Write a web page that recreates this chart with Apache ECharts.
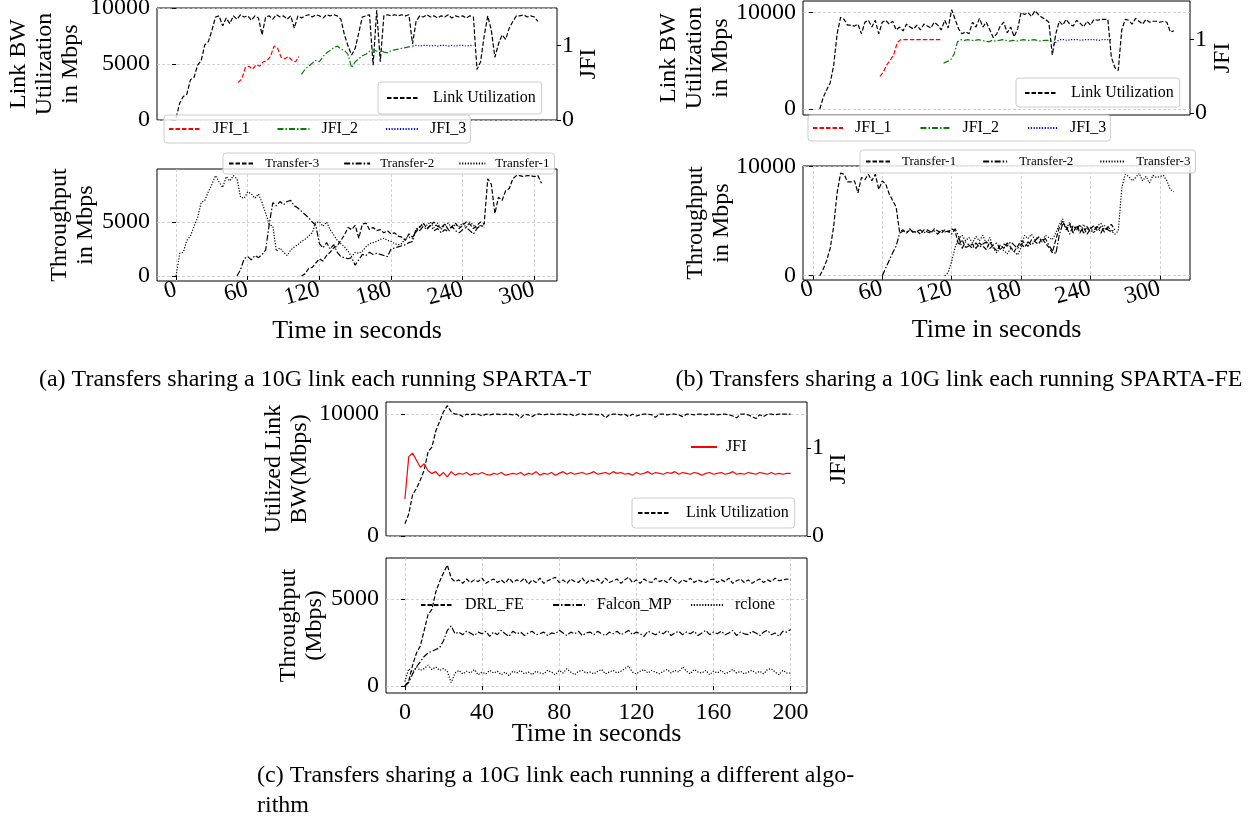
<!DOCTYPE html>
<html>
<head>
<meta charset="utf-8">
<title>Transfers sharing a 10G link</title>
<script src="https://cdn.jsdelivr.net/npm/echarts@6/dist/echarts.min.js"></script>
<style>
  html, body { margin: 0; padding: 0; background: #fff; }
  #chart { width: 1256px; height: 822px; }
</style>
</head>
<body>
<div id="chart"></div>
<script>
  // sample spacing (seconds)
  const STEP_AB = 3
  const STEP_C = 2

  // (a) SPARTA-T
  const aLinkStart = 0
  const aLink = [200,1500,2100,2300,3600,3800,4900,5300,6700,7000,
    8000,9200,9300,8400,9100,8600,9300,9000,9400,9200,
    9300,8900,9300,9100,7600,9200,9300,9000,9400,9200,
    9300,9000,9300,8200,9300,9100,9300,9400,9200,9400,
    9300,9100,9400,9300,9400,9300,9000,7600,6600,5800,
    6400,7800,9200,9300,9400,4900,9800,5200,9300,9400,
    9300,9400,9300,9400,9300,9400,6800,8800,9300,9200,
    9400,9200,9300,9100,9300,9200,9400,9100,9300,9200,
    9300,9100,9300,9200,4500,5200,7500,9300,8000,5600,
    6800,7600,7200,8200,8800,9300,9300,9400,9200,9300,
    9200,8800]
  const aJfi1Start = 52
  const aJfi1 = [0.50,0.55,0.70,0.72,0.68,0.74,0.72,0.78,0.79,0.85,0.99,0.96,0.84,0.82,0.85,0.80,0.78,0.85]
  const aJfi2Start = 105
  const aJfi2 = [0.61,0.68,0.72,0.76,0.80,0.78,0.85,0.90,0.93,0.97,0.99,0.95,0.93,0.88,0.70,0.78,
    0.82,0.86,0.88,0.92,0.94,0.92,0.94,0.91,0.90,0.93,0.94,0.95,0.96,0.97,0.98,0.98]
  const aJfi3Start = 198
  const aJfi3 = [0.99,1.0,0.99,1.0,1.0,0.99,1.0,0.99,1.0,1.0,0.99,1.0,0.99,1.0,1.0,0.99,1.0,1.0]
  const aT1Start = 0
  const aT1 = [0,2100,2200,3300,3700,4600,5400,6800,7000,7800,
    8500,9300,8700,8200,9200,8800,9300,9000,7300,7200,
    7800,7600,7200,7600,6800,5800,4800,4600,2300,2600,
    2200,1900,2400,2700,2900,3200,3400,3700,4000,5000,
    5000,4600,5000,4300,3800,3300,3000,2700,2300,1800,
    2200,2100,2300,2700,3000,3100,3200,3400,3500,3300,
    3200,3000,2900,3000,3500,3600,3500,4300,4600,4800,
    4700,5000,4500,4900,4300,4700,4900,4400,4800,4600,
    4900,4500,5000,4700,4400,4700,4600]
  const aT2Start = 51
  const aT2 = [0,600,1600,1800,1500,1900,1700,2000,2400,4800,
    6800,6500,6900,6600,6900,7000,6500,6300,6000,5700,
    5400,5000,4700,3000,2600,3100,2500,2900,2200,1800,
    1700,1600,1700,1000,1500,2000,1900,2200,2000,2100,
    2000,1900,1800,2500,2600,2700,2800,2900,3100,3200,
    4400,4200,4600,4300,4700,4200,4400,4000,4300,4100,
    4600,4200,4000,4300,4500,4200,3900,4400,4700,4500]
  const aT3Start = 105
  const aT3 = [0,200,700,800,1200,1600,1400,1900,2200,2600,
    2800,3300,3800,4500,4300,4700,3500,4800,4900,4300,
    4500,4200,4300,4000,4200,3900,4000,3700,3600,3300,
    3900,3600,4100,4500,4900,4400,4700,5000,4600,4500,
    4800,4300,4600,4900,4400,4700,5000,4800,4400,4700,
    5000,4800,9000,8500,5800,7300,7000,7900,8100,9000,
    9300,9300,9200,9300,9300,9200,9300,8600]

  // (b) SPARTA-FE
  const bLinkStart = 6
  const bLink = [0,1200,2000,2700,4500,7800,9500,9300,8700,8700,
    8600,8800,7800,9000,9200,8500,9200,7800,9000,9200,
    8800,9100,8200,8500,8100,8800,8500,8300,8700,8200,
    8800,8600,8400,9000,8700,8200,9200,8400,10300,9300,
    8300,7800,8000,7800,9000,8500,9400,8500,9000,8200,
    7400,7800,8600,9000,7900,8500,7500,8300,10000,9800,
    10000,9600,10200,9800,9500,9300,9000,5600,7800,9100,
    8700,9300,8800,8600,9200,8900,8500,9100,8700,9300,
    9200,9300,9300,9300,5400,4300,4000,8200,9300,9200,
    8800,9400,9100,8800,9300,9000,9100,9100,9000,9100,
    9000,8000,8100]
  const bJfi1Start = 58
  const bJfi1 = [0.50,0.56,0.66,0.72,0.80,0.96,1.0,1.0,1.0,1.0,1.0,1.0,1.0,1.0,1.0,1.0,1.0,1.0,1.0]
  const bJfi2Start = 113
  const bJfi2 = [0.68,0.70,0.72,0.80,0.97,1.0,0.99,1.0,0.99,0.99,1.0,0.99,0.98,0.97,0.99,0.98,0.99,
    1.0,0.99,0.98,0.99,0.98,0.99,1.0,0.99,0.99,1.0,0.99,0.98,0.99,0.99,0.98,0.99]
  const bJfi3Start = 208
  const bJfi3 = [0.93,0.98,1.0,1.0,0.99,1.0,1.0,1.0,0.99,1.0,1.0,1.0,1.0,0.99,1.0,1.0,1.0,1.0]
  const bT1Start = 6
  const bT1 = [0,600,1400,2500,4500,7600,9400,9300,8600,8600,
    8700,7600,9000,8800,9300,8700,9300,7900,8700,8400,
    7500,6900,6300,4000,4200,3900,4200,4000,4100,3800,
    4200,4000,3900,4300,4100,3900,4200,4000,4300,4100,
    2800,3300,2600,2700,2900,2500,3000,2700,2400,3100,
    2600,2300,2800,2500,3000,2600,2200,2700,3200,3000,
    2700,3300,3100,2900,3400,3000,2600,2100,3300,4400,
    5000,4200,4700,3900,4600,4000,4400,3800,4300,4600,
    4100,4500,4000,4400,4700,4200]
  const bT2Start = 60
  const bT2 = [0,700,1400,2100,2700,3900,4100,4000,4300,3900,
    4100,4200,3900,4200,4000,4100,3800,4200,4000,4100,
    3800,4300,3600,2500,3100,2800,2500,3000,2600,2900,
    3100,2500,2800,3000,2400,2900,2700,3100,2800,2500,
    2900,2600,3100,2800,3200,3500,3200,3400,2800,2300,
    2000,3700,4800,4500,3800,4600,4200,4700,3900,4500,
    4000,4200,4500,3900,4600,4200,4000,4300]
  const bT3Start = 114
  const bT3 = [0,300,1300,2600,3400,3700,3200,3500,3000,3600,
    3200,3700,2900,3500,2500,2100,2600,2300,2000,2500,
    2200,1900,2600,3700,3400,3800,3300,3600,3100,3700,
    3500,3300,3900,4700,5200,4300,4900,4000,4500,3900,
    4700,4200,4400,3900,4600,4800,4200,4500,4100,3800,
    4100,8000,9300,9100,8700,9000,9400,8700,9100,8500,
    9200,9000,9100,9200,8700,7900,7700]

  // (c) different algorithms, sampled from t = 0
  const cLink = [1000,1800,3400,3900,4600,5400,6900,7300,8600,9400,
    10200,10700,10200,10000,10000,9800,10000,9950,10000,10000,
    9850,10000,9950,10000,10000,9950,10000,10000,9950,10000,
    9700,10000,9950,9800,10000,10000,9950,10000,10000,9950,
    10000,10000,9950,10000,9850,10000,10000,9950,10000,10000,
    9950,10000,9700,9950,10000,10000,9950,10000,9800,10000,
    9850,9950,10000,10000,9950,9750,10000,10000,9950,10000,
    10000,9950,9800,10000,10000,9950,10000,10000,9950,10000,
    10000,9950,10000,10000,9950,9850,9700,10000,10000,9950,
    9800,9650,9950,9800,10000,10000,9950,10000,10000,10000,
    10000]
  const cJfi = [0.42,0.90,0.94,0.86,0.78,0.82,0.74,0.71,0.73,0.68,
    0.72,0.67,0.73,0.69,0.71,0.70,0.72,0.69,0.71,0.70,
    0.72,0.70,0.69,0.71,0.70,0.72,0.69,0.70,0.71,0.70,
    0.72,0.69,0.71,0.70,0.73,0.69,0.71,0.70,0.72,0.69,
    0.71,0.73,0.70,0.72,0.70,0.71,0.72,0.70,0.71,0.73,
    0.70,0.71,0.72,0.70,0.73,0.71,0.72,0.70,0.71,0.69,
    0.72,0.70,0.71,0.73,0.70,0.72,0.71,0.70,0.72,0.71,
    0.73,0.70,0.72,0.71,0.70,0.72,0.71,0.69,0.71,0.72,
    0.70,0.71,0.72,0.70,0.71,0.73,0.70,0.71,0.70,0.72,
    0.71,0.70,0.72,0.71,0.70,0.72,0.70,0.71,0.70,0.71,
    0.71]
  const cDrl = [0,300,1200,1900,2300,3200,4100,4400,5400,6000,
    6500,6950,6200,6000,6100,5900,6150,5950,6100,6000,
    6200,5900,6050,6150,5950,6100,5900,6200,5950,6100,
    6000,6200,5850,6100,5950,6200,5900,6050,6150,6250,
    5950,6100,5900,6150,6000,5950,6200,5900,6100,6000,
    6150,5900,6200,5950,6050,6150,5900,6100,6250,5950,
    6100,5900,6150,6000,5950,6200,6000,6100,5950,6250,
    6050,5900,6100,6000,6200,5950,6100,6000,5950,6100,
    6150,5950,6100,6000,6200,5900,6050,6150,5950,6100,
    5900,6050,6150,5950,6100,6000,6200,6050,6100,6150,
    6100]
  const cFalcon = [0,200,700,1100,1400,1700,1900,2000,2100,2200,
    2600,3200,3450,3000,3100,2950,3150,3050,2900,3100,
    3000,3150,2850,3100,2950,3200,3000,2850,3150,3000,
    3100,2900,3050,3150,2950,3000,3100,2900,3050,3000,
    3200,3050,2900,3100,3000,3150,2900,3050,3100,2950,
    3150,3000,2900,3100,3000,3150,2950,3050,3200,2950,
    3100,3000,2850,3150,3050,2950,3100,3000,3200,2900,
    3050,3150,2950,3100,3000,3150,2900,3050,3200,2950,
    3100,3000,3150,2950,3050,3200,2900,3100,3000,2950,
    3150,3050,2900,3100,3200,2950,3050,2850,3150,3100,
    3250]
  const cRclone = [250,1000,800,1100,900,1000,1200,950,1100,900,
    1000,850,200,750,900,700,850,750,950,650,
    800,700,900,750,850,650,800,600,850,750,
    900,700,800,650,850,750,700,900,800,650,
    900,750,1000,800,650,850,900,750,800,700,
    850,950,700,800,900,750,850,1000,1150,800,
    700,850,950,750,900,800,700,850,950,750,
    900,800,1100,850,700,950,800,750,900,650,
    850,750,900,700,800,950,750,850,700,800,
    900,750,850,700,950,1000,800,650,900,750,
    750]

  const xTicksAB = [0, 60, 120, 180, 240, 300]
  const xTicksC = [0, 40, 80, 120, 160, 200]

  const captions = [
    '(a) Transfers sharing a 10G link each running SPARTA-T',
    '(b) Transfers sharing a 10G link each running SPARTA-FE',
    '(c) Transfers sharing a 10G link each running a different algo-\nrithm',
  ]

  const FONT = 'Liberation Serif'
  const DASH = [4.5, 2]
  const DASHDOT = [6, 2, 1.5, 2]
  const DOT = [1.2, 1.6]
  const GRIDLINE = {color: '#c8c8c8', width: 0.8, type: [3, 2]}
  const plain = function (v) { return String(v) }

  function pts (t0, step, vals) {
    return vals.map(function (v, i) { return [t0 + i * step, v] })
  }

  function line (name, xi, yi, data, color, dash) {
    return {
      name: name, type: 'line', xAxisIndex: xi, yAxisIndex: yi, data: data,
      symbol: 'none', showSymbol: false, silent: true, color: color,
      lineStyle: {color: color, width: 1.2, type: dash},
    }
  }

  function xAx (gi, min, max, ticks, labelled, rotate, nameGap) {
    return {
      type: 'value', gridIndex: gi, min: min, max: max,
      axisLine: {show: false},
      axisTick: {show: labelled, customValues: ticks, length: 4, lineStyle: {color: '#000', width: 1}},
      axisLabel: {show: labelled, customValues: ticks, rotate: rotate, margin: 8, formatter: plain,
        color: '#000', fontSize: 24, fontFamily: FONT},
      splitLine: {show: labelled, lineStyle: GRIDLINE},
      name: labelled ? 'Time in seconds' : '', nameLocation: 'middle', nameGap: nameGap || 0,
      nameMoveOverlap: false,
      nameTextStyle: {color: '#000', fontSize: 26, fontFamily: FONT},
    }
  }

  function yAx (gi, side, min, max, ticks, name, nameGap, grid) {
    return {
      type: 'value', gridIndex: gi, position: side, min: min, max: max,
      axisLine: {show: false},
      axisTick: {show: true, customValues: ticks, length: 4, lineStyle: {color: '#000', width: 1}},
      axisLabel: {customValues: ticks, margin: side === 'left' ? 7 : 5, formatter: plain,
        color: '#000', fontSize: 24, fontFamily: FONT},
      splitLine: {show: grid, lineStyle: GRIDLINE},
      name: name, nameLocation: 'middle', nameRotate: 90, nameGap: nameGap,
      nameMoveOverlap: false,
      nameTextStyle: {color: '#000', fontSize: 24, fontFamily: FONT, lineHeight: 26},
    }
  }

  // legend box; the marker dot of line legends is hidden so only the line sample shows
  function frame (extra) {
    return Object.assign({
      orient: 'horizontal', selectedMode: false,
      itemStyle: {opacity: 0, borderWidth: 0},
      backgroundColor: 'rgba(255,255,255,0.8)', borderColor: '#cccccc', borderWidth: 1, borderRadius: 3,
    }, extra)
  }

  let gridBox = {show: true, borderColor: '#000', borderWidth: 1, containLabel: false, outerBoundsMode: 'none'}
  let capFont = '24px "Liberation Serif"'

  let option = {
    animation: false,
    backgroundColor: '#fff',
    textStyle: {fontFamily: FONT},
    grid: [
      Object.assign({left: 157, top: 8, width: 400, height: 112}, gridBox),
      Object.assign({left: 157, top: 169, width: 400, height: 112}, gridBox),
      Object.assign({left: 803, top: 1, width: 387, height: 114}, gridBox),
      Object.assign({left: 803, top: 166, width: 387, height: 114}, gridBox),
      Object.assign({left: 386, top: 402, width: 421, height: 134}, gridBox),
      Object.assign({left: 386, top: 558, width: 421, height: 135}, gridBox),
    ],
    xAxis: [
      xAx(0, -16, 319, xTicksAB, false),
      xAx(1, -16, 319, xTicksAB, true, 15, 37),
      xAx(2, -8.5, 326, xTicksAB, false),
      xAx(3, -8.5, 326, xTicksAB, true, 15, 37),
      xAx(4, -9.8, 208.5, xTicksC, false),
      xAx(5, -9.8, 208.5, xTicksC, true, 0, 28),
    ],
    yAxis: [
      yAx(0, 'left', 0, 10000, [0, 5000, 10000], 'Link BW\nUtilization\nin Mbps', 73, true),
      yAx(0, 'right', 0, 1.5, [0, 1], 'JFI', 19, false),
      yAx(1, 'left', -460, 9910, [0, 5000], 'Throughput\nin Mbps', 58, true),
      yAx(2, 'left', -620, 11200, [0, 10000], 'Link BW\nUtilization\nin Mbps', 69, true),
      yAx(2, 'right', -0.027, 1.527, [0, 1], 'JFI', 20, false),
      yAx(3, 'left', -400, 10060, [0, 10000], 'Throughput\nin Mbps', 68, true),
      yAx(4, 'left', 0, 11000, [0, 10000], 'Utilized Link\nBW(Mbps)', 73, true),
      yAx(4, 'right', 0, 1.52, [0, 1], 'JFI', 19, false),
      yAx(5, 'left', -400, 7357, [0, 5000], 'Throughput\n(Mbps)', 58, true),
    ],
    legend: [
      frame({data: ['JFI_1', 'JFI_2', 'JFI_3'], left: 164, top: 115, padding: [6, 4, 6, 4],
        itemWidth: 32, itemHeight: 12, itemGap: 27,
        textStyle: {fontSize: 16, fontFamily: FONT, color: '#000', padding: [0, 0, 0, 7]}}),
      frame({data: ['Link Utilization'], left: 378, top: 82, padding: [8, 6, 8, 8],
        itemWidth: 32, itemHeight: 14,
        textStyle: {fontSize: 16, fontFamily: FONT, color: '#000', padding: [0, 0, 0, 9]}}),
      frame({data: ['Transfer-3', 'Transfer-2', 'Transfer-1'], left: 223, top: 153, padding: [4, 5, 4, 5],
        itemWidth: 26, itemHeight: 12, itemGap: 24,
        textStyle: {fontSize: 13, fontFamily: FONT, color: '#000', padding: [0, 0, 0, 5]}}),
      frame({data: ['JFI_1', 'JFI_2', 'JFI_3'], left: 808, top: 115, padding: [5, 4, 5, 4],
        itemWidth: 30, itemHeight: 12, itemGap: 28,
        textStyle: {fontSize: 16, fontFamily: FONT, color: '#000', padding: [0, 0, 0, 7]}}),
      frame({data: ['Link Utilization'], left: 1016, top: 78, padding: [7, 6, 6, 8],
        itemWidth: 32, itemHeight: 14,
        textStyle: {fontSize: 16, fontFamily: FONT, color: '#000', padding: [0, 0, 0, 9]}}),
      frame({data: [
        {name: 'Transfer-1', lineStyle: {type: DASH}},
        {name: 'Transfer-2', lineStyle: {type: DASHDOT}},
        {name: 'Transfer-3', lineStyle: {type: DOT}},
      ], left: 860, top: 150, padding: [5, 5, 5, 5],
        itemWidth: 24, itemHeight: 12, itemGap: 26,
        textStyle: {fontSize: 13, fontFamily: FONT, color: '#000', padding: [0, 0, 0, 7]}}),
      frame({data: ['JFI'], left: 690, top: 439, padding: 0, backgroundColor: 'transparent', borderWidth: 0,
        itemWidth: 26, itemHeight: 16,
        textStyle: {fontSize: 16, fontFamily: FONT, color: '#000', padding: [0, 0, 0, 4]}}),
      frame({data: ['Link Utilization'], left: 632, top: 498, padding: [7, 6, 7, 5],
        itemWidth: 32, itemHeight: 15,
        textStyle: {fontSize: 16, fontFamily: FONT, color: '#000', padding: [0, 0, 0, 11]}}),
      frame({data: ['DRL_FE'], left: 420, top: 597, padding: 0, backgroundColor: 'transparent', borderWidth: 0,
        itemWidth: 32, itemHeight: 16, textStyle: {fontSize: 16, fontFamily: FONT, color: '#000', padding: [0, 0, 0, 7]}}),
      frame({data: ['Falcon_MP'], left: 552, top: 597, padding: 0, backgroundColor: 'transparent', borderWidth: 0,
        itemWidth: 32, itemHeight: 16, textStyle: {fontSize: 16, fontFamily: FONT, color: '#000', padding: [0, 0, 0, 7]}}),
      frame({data: ['rclone'], left: 690, top: 597, padding: 0, backgroundColor: 'transparent', borderWidth: 0,
        itemWidth: 32, itemHeight: 16, textStyle: {fontSize: 16, fontFamily: FONT, color: '#000', padding: [0, 0, 0, 7]}}),
    ],
    series: [
      line('Link Utilization', 0, 0, pts(aLinkStart, STEP_AB, aLink), '#000', DASH),
      line('JFI_1', 0, 1, pts(aJfi1Start, STEP_AB, aJfi1), '#ff0000', DASH),
      line('JFI_2', 0, 1, pts(aJfi2Start, STEP_AB, aJfi2), '#008000', DASHDOT),
      line('JFI_3', 0, 1, pts(aJfi3Start, STEP_AB, aJfi3), '#0000ff', DOT),
      line('Transfer-3', 1, 2, pts(aT3Start, STEP_AB, aT3), '#000', DASH),
      line('Transfer-2', 1, 2, pts(aT2Start, STEP_AB, aT2), '#000', DASHDOT),
      line('Transfer-1', 1, 2, pts(aT1Start, STEP_AB, aT1), '#000', DOT),

      line('Link Utilization', 2, 3, pts(bLinkStart, STEP_AB, bLink), '#000', DASH),
      line('JFI_1', 2, 4, pts(bJfi1Start, STEP_AB, bJfi1), '#ff0000', DASH),
      line('JFI_2', 2, 4, pts(bJfi2Start, STEP_AB, bJfi2), '#008000', DASHDOT),
      line('JFI_3', 2, 4, pts(bJfi3Start, STEP_AB, bJfi3), '#0000ff', DOT),
      line('Transfer-1', 3, 5, pts(bT1Start, STEP_AB, bT1), '#000', DASH),
      line('Transfer-2', 3, 5, pts(bT2Start, STEP_AB, bT2), '#000', DASHDOT),
      line('Transfer-3', 3, 5, pts(bT3Start, STEP_AB, bT3), '#000', DOT),

      line('Link Utilization', 4, 6, pts(0, STEP_C, cLink), '#000', DASH),
      line('JFI', 4, 7, pts(0, STEP_C, cJfi), '#ff0000', 'solid'),
      line('DRL_FE', 5, 8, pts(0, STEP_C, cDrl), '#000', DASH),
      line('Falcon_MP', 5, 8, pts(0, STEP_C, cFalcon), '#000', DASHDOT),
      line('rclone', 5, 8, pts(0, STEP_C, cRclone), '#000', DOT),
    ],
    graphic: [
      {type: 'text', x: 315, y: 380, silent: true,
        style: {text: captions[0], fill: '#000', font: capFont, textAlign: 'center', textVerticalAlign: 'middle', verticalAlign: 'middle'}},
      {type: 'text', x: 959, y: 380, silent: true,
        style: {text: captions[1], fill: '#000', font: capFont, textAlign: 'center', textVerticalAlign: 'middle', verticalAlign: 'middle'}},
      {type: 'text', x: 257, y: 761, silent: true,
        style: {text: captions[2], fill: '#000', font: capFont, lineHeight: 30, textAlign: 'left', textVerticalAlign: 'top', verticalAlign: 'top'}},
    ],
  }

  let myChart = echarts.init(document.getElementById('chart'))
  myChart.setOption(option)
</script>
</body>
</html>
